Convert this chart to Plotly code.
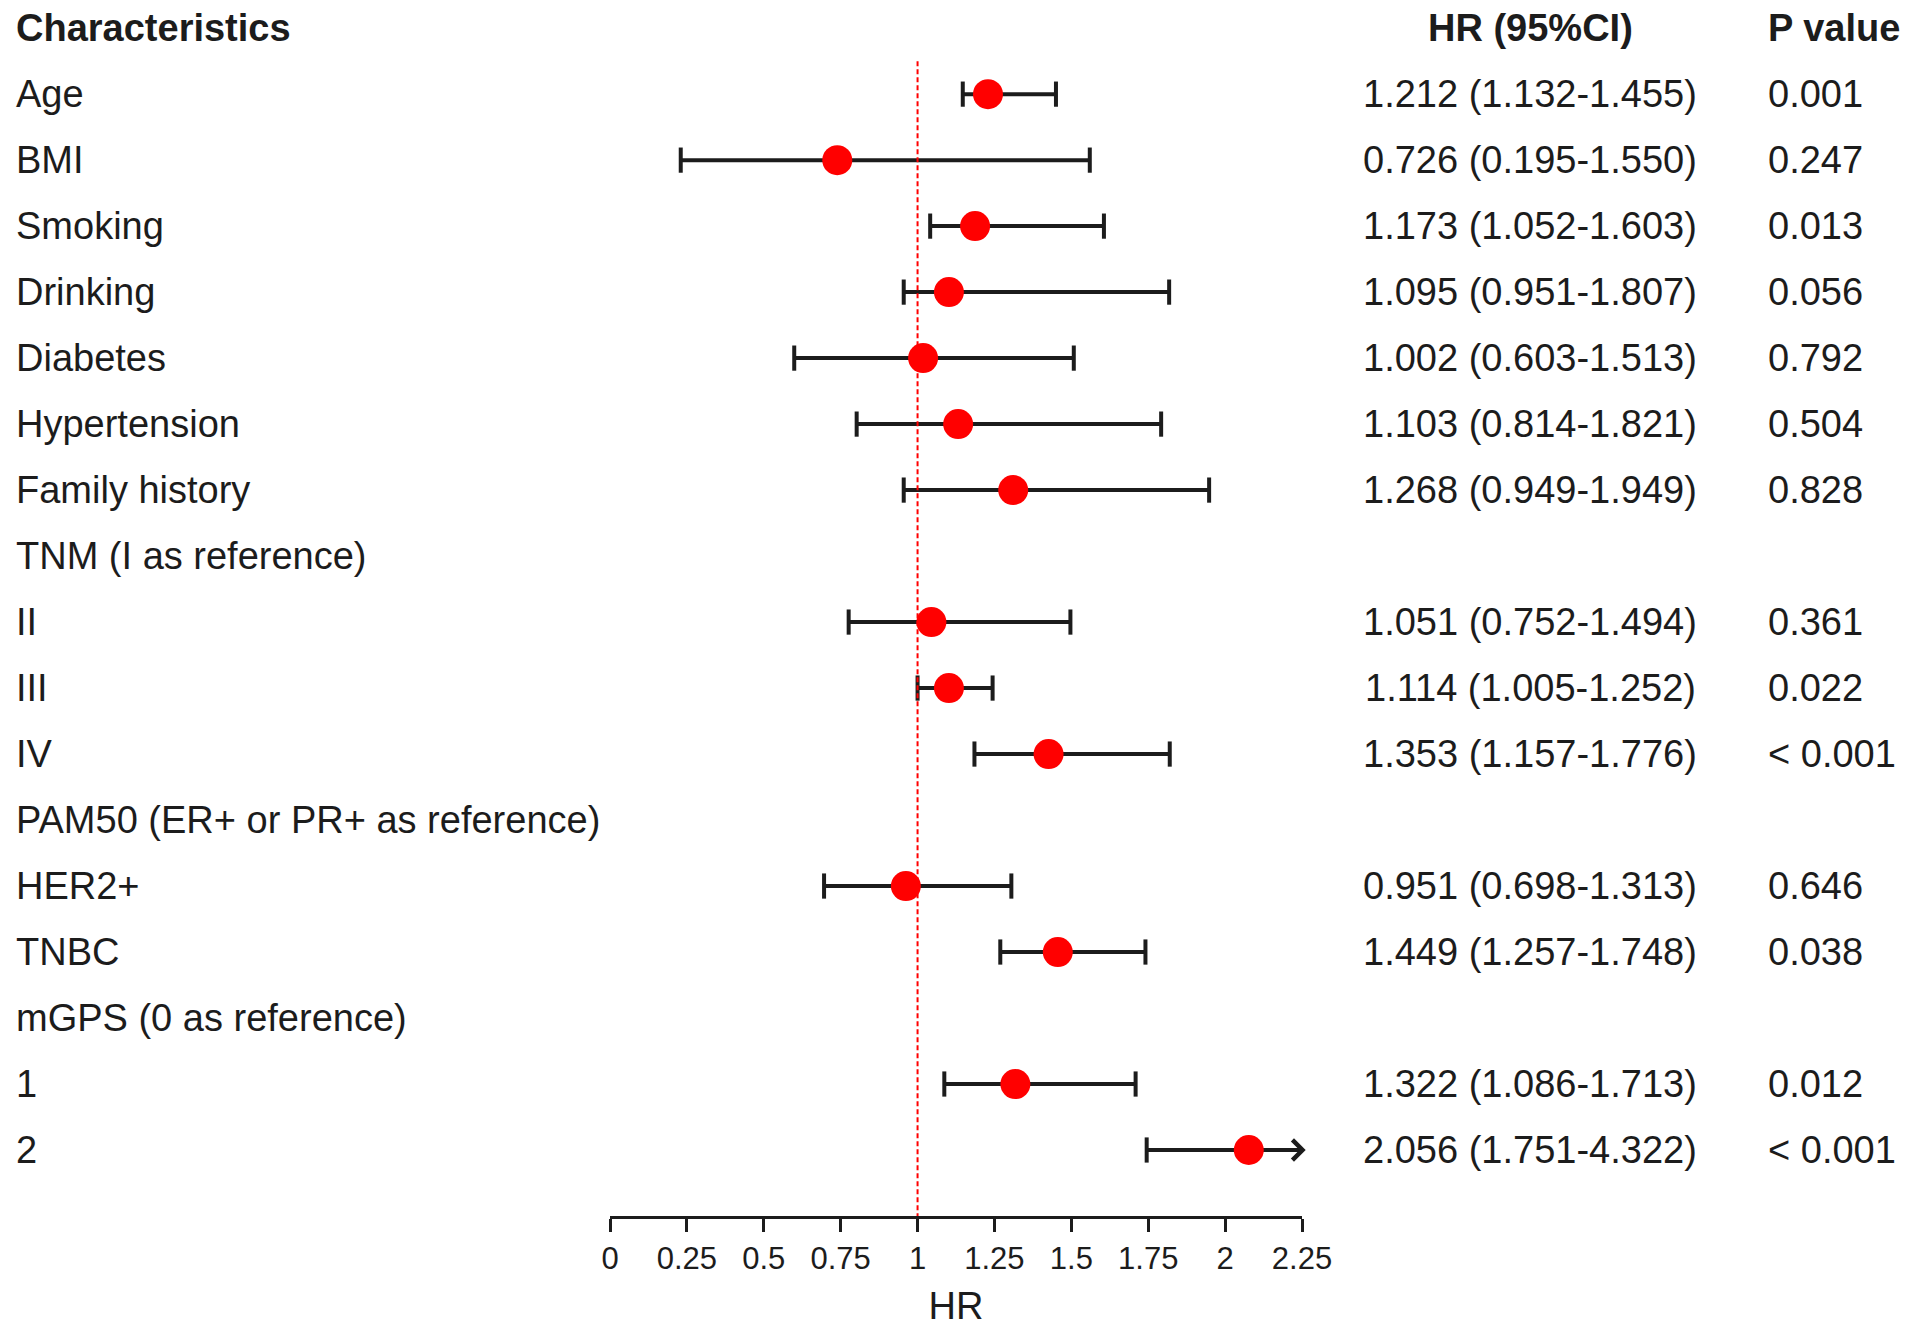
import plotly.graph_objects as go

# rows of the forest plot (None = subgroup header without estimate)
labels = ["Age", "BMI", "Smoking", "Drinking", "Diabetes", "Hypertension",
          "Family history", "TNM (I as reference)", "II", "III", "IV",
          "PAM50 (ER+ or PR+ as reference)", "HER2+", "TNBC",
          "mGPS (0 as reference)", "1", "2"]

# printed estimates (text columns)
hr = [1.212, 0.726, 1.173, 1.095, 1.002, 1.103, 1.268, None, 1.051, 1.114,
      1.353, None, 0.951, 1.449, None, 1.322, 2.056]
ci_low = [1.132, 0.195, 1.052, 0.951, 0.603, 0.814, 0.949, None, 0.752, 1.005,
          1.157, None, 0.698, 1.257, None, 1.086, 1.751]
ci_high = [1.455, 1.550, 1.603, 1.807, 1.513, 1.821, 1.949, None, 1.494, 1.252,
           1.776, None, 1.313, 1.748, None, 1.713, 4.322]
p_values = ["0.001", "0.247", "0.013", "0.056", "0.792", "0.504", "0.828", "",
            "0.361", "0.022", "< 0.001", "", "0.646", "0.038", "", "0.012",
            "< 0.001"]

# drawn marks (they differ a little from the printed numbers)
dot_x = [1.229, 0.739, 1.187, 1.102, 1.018, 1.132, 1.311, None, 1.045, 1.102,
         1.426, None, 0.962, 1.456, None, 1.318, 2.077]
bar_low = [1.147, 0.230, 1.041, 0.955, 0.599, 0.802, 0.955, None, 0.776, 1.000,
           1.185, None, 0.696, 1.269, None, 1.087, 1.745]
bar_high = [1.450, 1.560, 1.606, 1.818, 1.508, 1.792, 1.948, None, 1.497, 1.244,
            1.820, None, 1.305, 1.741, None, 1.709, 4.322]

tick_vals = [0, 0.25, 0.5, 0.75, 1, 1.25, 1.5, 1.75, 2, 2.25]
tick_text = ["0", "0.25", "0.5", "0.75", "1", "1.25", "1.5", "1.75", "2", "2.25"]

W, H = 1913, 1333
OFF = 8  # page margin of the browser
PLOT_L, PLOT_R = 610 - OFF, 1302 - OFF
XMAX = 2.25
FONT = "Liberation Sans, Arial, sans-serif"
INK = "#1c1c1c"


def px(x):
    # pixel column (screen) -> paper coordinate
    return (x - OFF - PLOT_L) / (PLOT_R - PLOT_L)


rows = list(range(1, len(labels) + 1))

fig = go.Figure()

# CI lines
xs, ys = [], []
for r, lo, hi in zip(rows, bar_low, bar_high):
    if lo is None:
        continue
    xs += [lo, hi, None]
    ys += [r, r, None]
fig.add_trace(go.Scatter(x=xs, y=ys, mode="lines",
                         line=dict(color=INK, width=4), hoverinfo="skip"))

# caps
cx, cy = [], []
for r, lo, hi in zip(rows, bar_low, bar_high):
    if lo is None:
        continue
    cx.append(lo); cy.append(r)
    if hi <= XMAX:
        cx.append(hi); cy.append(r)
fig.add_trace(go.Scatter(x=cx, y=cy, mode="markers", hoverinfo="skip",
                         marker=dict(symbol="line-ns-open", size=18, color=INK,
                                     line=dict(color=INK, width=4))))

# point estimates
fig.add_trace(go.Scatter(x=[v for v in dot_x if v is not None],
                         y=[r for r, v in zip(rows, dot_x) if v is not None],
                         mode="markers", cliponaxis=False,
                         marker=dict(color="#ff0000", size=30, line=dict(width=0))))

# arrow for CI running off the axis
for r, hi in zip(rows, bar_high):
    if hi is not None and hi > XMAX:
        fig.add_annotation(x=XMAX + 0.012, y=r, ax=XMAX - 0.12, ay=r,
                           xref="x", yref="y", axref="x", ayref="y",
                           text="", showarrow=True, arrowhead=4, arrowsize=1.3,
                           arrowwidth=3, arrowcolor=INK)

# reference line at HR = 1
fig.add_shape(type="line", x0=1, x1=1, y0=0.5, y1=18, xref="x", yref="y",
              line=dict(color="#ff0000", width=2, dash="5px,3px"))

txt = dict(family=FONT, size=38, color=INK)

# headers
fig.add_annotation(x=px(14), y=0, xref="paper", yref="y", xanchor="left",
                   yanchor="middle", text="<b>Characteristics</b>",
                   showarrow=False, font=txt)
fig.add_annotation(x=px(1530), y=0, xref="paper", yref="y", xanchor="center",
                   yanchor="middle", text="<b>HR (95%CI)</b>",
                   showarrow=False, font=txt)
fig.add_annotation(x=px(1766), y=0, xref="paper", yref="y", xanchor="left",
                   yanchor="middle", text="<b>P value</b>",
                   showarrow=False, font=txt)

for r, lab, h, lo, hi, p in zip(rows, labels, hr, ci_low, ci_high, p_values):
    fig.add_annotation(x=px(14), y=r, xref="paper", yref="y", xanchor="left",
                       yanchor="middle", text=lab, showarrow=False, font=txt)
    if h is None:
        continue
    fig.add_annotation(x=px(1530), y=r, xref="paper", yref="y",
                       xanchor="center", yanchor="middle",
                       text=f"{h:.3f} ({lo:.3f}-{hi:.3f})",
                       showarrow=False, font=txt)
    fig.add_annotation(x=px(1766), y=r, xref="paper", yref="y",
                       xanchor="left", yanchor="middle", text=p,
                       showarrow=False, font=txt)

fig.update_xaxes(range=[0, XMAX], showline=True, linewidth=3, linecolor=INK,
                 ticks="outside", ticklen=13, tickwidth=3, tickcolor=INK,
                 tickvals=tick_vals, ticktext=tick_text,
                 tickfont=dict(family=FONT, size=31, color=INK),
                 showgrid=False, zeroline=False,
                 title=dict(text="HR", font=dict(family=FONT, size=38, color=INK),
                            standoff=18))
fig.update_yaxes(range=[18, -0.275], visible=False, showgrid=False)

fig.update_layout(width=W, height=H, showlegend=False,
                  margin=dict(l=PLOT_L, r=W - PLOT_R, t=10 - OFF, b=117 + OFF),
                  plot_bgcolor="white", paper_bgcolor="white")

fig.write_html("out.html")
